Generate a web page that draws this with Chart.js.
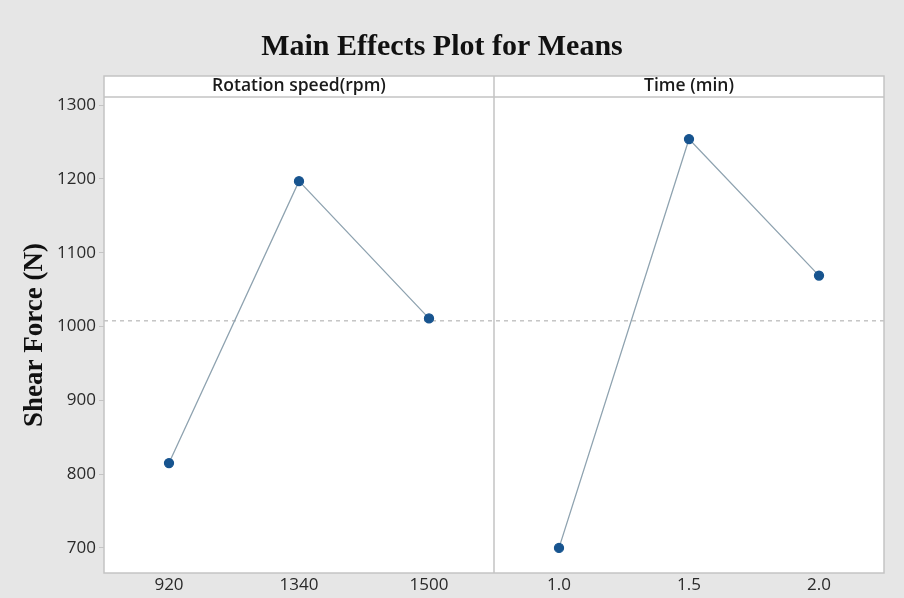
<!DOCTYPE html>
<html>
<head>
<meta charset="utf-8">
<script src="https://cdn.jsdelivr.net/npm/chart.js@4.4.1/dist/chart.umd.min.js"></script>
<style>
  body { margin: 0; background: #e6e6e6; }
  #wrap { width: 904px; height: 598px; }
</style>
</head>
<body>
<div id="wrap"><canvas id="mainEffects" width="904" height="598"></canvas></div>
<script>
// factor levels and the mean shear force at each level
const speedLabels = ['920', '1340', '1500'];
const timeLabels = ['1.0', '1.5', '2.0'];
const speedMeans = [815, 1197, 1011];
const timeMeans = [700, 1254, 1069];
const yTicks = [700, 800, 900, 1000, 1100, 1200, 1300];
const panelTitles = ['Rotation speed(rpm)', 'Time (min)'];

const allMeans = speedMeans.concat(timeMeans);
const grandMean = allMeans.reduce((a, b) => a + b, 0) / allMeans.length;

const labels = speedLabels.concat(timeLabels);
const speedData = speedMeans.concat(timeLabels.map(() => null));
const timeData = speedLabels.map(() => null).concat(timeMeans);

const frameColor = '#c4c4c4';
const headerH = 21;

const panelPlugin = {
  id: 'panels',
  beforeDraw(chart) {
    const { ctx, chartArea: a } = chart;
    ctx.save();
    ctx.fillStyle = '#e6e6e6';
    ctx.fillRect(0, 0, chart.width, chart.height);
    ctx.fillStyle = '#ffffff';
    ctx.fillRect(a.left, a.top - headerH, a.right - a.left, a.bottom - a.top + headerH);
    ctx.restore();
  },
  beforeDatasetsDraw(chart) {
    const { ctx, chartArea: a, scales } = chart;
    const x = scales.x, y = scales.y;
    const divX = (x.getPixelForValue(2) + x.getPixelForValue(3)) / 2;
    ctx.save();
    // grand mean reference line
    const my = y.getPixelForValue(grandMean);
    ctx.strokeStyle = '#a8a8a8';
    ctx.lineWidth = 1;
    ctx.setLineDash([4, 4]);
    ctx.beginPath();
    ctx.moveTo(a.left, my);
    ctx.lineTo(a.right, my);
    ctx.stroke();
    ctx.setLineDash([]);
    // frame, header strip and panel divider
    ctx.strokeStyle = frameColor;
    ctx.lineWidth = 1.5;
    ctx.strokeRect(a.left, a.top - headerH, a.right - a.left, a.bottom - a.top + headerH);
    ctx.beginPath();
    ctx.moveTo(a.left, a.top);
    ctx.lineTo(a.right, a.top);
    ctx.moveTo(divX, a.top - headerH);
    ctx.lineTo(divX, a.bottom);
    ctx.stroke();
    // panel titles
    ctx.fillStyle = '#1a1a1a';
    ctx.font = '600 17.5px "Open Sans"';
    ctx.textAlign = 'center';
    ctx.textBaseline = 'middle';
    ctx.fillText(panelTitles[0], (a.left + divX) / 2, a.top - headerH / 2);
    ctx.fillText(panelTitles[1], (divX + a.right) / 2, a.top - headerH / 2);
    ctx.restore();
  }
};

const lineStyle = {
  borderColor: '#8fa3b0',
  borderWidth: 1.3,
  pointBackgroundColor: '#17548f',
  pointBorderColor: '#17548f',
  pointRadius: 4.5,
  spanGaps: false,
  tension: 0
};

const tickFont = { family: '"Open Sans"', size: 17, weight: '500' };

new Chart(document.getElementById('mainEffects'), {
  type: 'line',
  data: {
    labels: labels,
    datasets: [
      Object.assign({ label: panelTitles[0], data: speedData }, lineStyle),
      Object.assign({ label: panelTitles[1], data: timeData }, lineStyle)
    ]
  },
  options: {
    responsive: false,
    animation: false,
    devicePixelRatio: 1,
    layout: { padding: { left: 0, right: 20, top: 0, bottom: 0 } },
    plugins: {
      legend: { display: false },
      tooltip: { enabled: false },
      title: {
        display: true,
        text: 'Main Effects Plot for Means',
        color: '#111',
        font: { family: '"Liberation Serif", serif', size: 30, weight: 'bold', lineHeight: 1.2 },
        padding: { top: 29, bottom: 32 }
      }
    },
    scales: {
      x: {
        type: 'category',
        offset: true,
        grid: { display: false, drawTicks: false },
        border: { display: false },
        ticks: { color: '#2a2a2a', font: tickFont, padding: 2, maxRotation: 0 },
        afterFit(s) { s.height = 25; }
      },
      y: {
        min: 666,
        max: 1311,
        afterBuildTicks(s) { s.ticks = yTicks.map(v => ({ value: v })); },
        grid: { drawOnChartArea: false, color: frameColor, tickLength: 5 },
        border: { display: false },
        ticks: { color: '#2a2a2a', font: tickFont, padding: 3, callback: v => String(v) },
        title: {
          display: true,
          text: 'Shear Force (N)',
          color: '#111',
          font: { family: '"Liberation Serif", serif', size: 27, weight: 'bold', lineHeight: 1 },
          padding: { top: 22, bottom: 0 }
        },
        afterFit(s) { s.width = 104; }
      }
    }
  },
  plugins: [panelPlugin]
});
</script>
</body>
</html>
